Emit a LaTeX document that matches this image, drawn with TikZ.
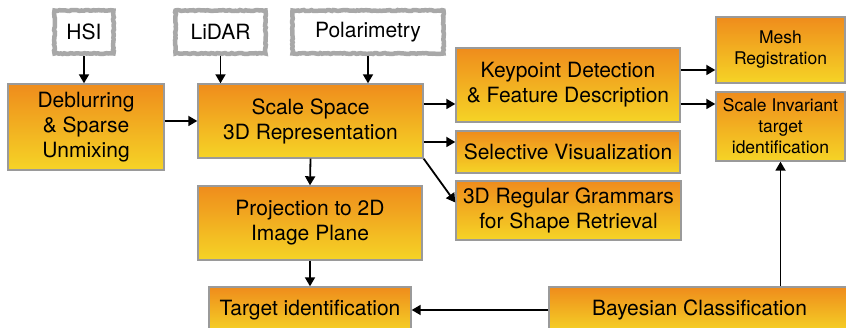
\documentclass[tikz,border=0pt]{standalone}
\usepackage{fontspec}
\setmainfont{TeX Gyre Heros}
\usetikzlibrary{arrows.meta,decorations.pathmorphing}

\begin{document}
\begin{tikzpicture}[x=1pt,y=1pt,
  stagebox/.style 2 args={rectangle,draw=boxgray,line width=1.4pt,top color=toporange,bottom color=botyellow,
    minimum width=#1,minimum height=#2,inner sep=0pt,align=center,font=\fontsize{21}{25}\selectfont},
  smallbox/.style 2 args={stagebox={#1}{#2},font=\fontsize{17.5}{21}\selectfont},
  sensorbox/.style={rectangle,draw=chalkgray,line width=4.5pt,minimum height=43,inner sep=0pt,
    decorate,decoration={random steps,segment length=2pt,amplitude=0.5pt},font=\fontsize{21}{25}\selectfont},
  arr/.style={-{Triangle[length=9pt,width=10pt]},line width=1.8pt}]
\definecolor{toporange}{HTML}{EF8C1C}
\definecolor{botyellow}{HTML}{F5D426}
\definecolor{boxgray}{HTML}{9A9A9A}
\definecolor{chalkgray}{HTML}{A8A8A8}
\useasboundingbox (0,0) rectangle (846,328);
  % inputs
  \foreach \nm/\txt/\xx/\bw in {hsi/HSI/84/59,lidar/LiDAR/220.5/90,pol/Polarimetry/368/151}
  {  \node [sensorbox,minimum width=\bw] (\nm) at (\xx,296) {\txt};}
  % processing stages
  \node [stagebox={156}{86}] (deblur) at (86,201) {Deblurring\\\& Sparse\\Unmixing};
  \node [stagebox={225}{74}] (scale) at (310.5,207) {Scale Space\\3D Representation};
  \node [stagebox={224}{74}] (keypt) at (568,243) {Keypoint Detection\\\& Feature Description};
  \node [stagebox={224}{42}] (selvis) at (568,176) {Selective Visualization};
  \node [stagebox={225}{59}] (gramm) at (568.5,117.5) {3D Regular Grammars\\for Shape Retrieval};
  \node [smallbox={129}{66}] (mesh) at (780.5,278) {Mesh\\Registration};
  \node [smallbox={129}{69}] (scinv) at (780.5,201.5) {Scale Invariant\\target\\identification};
  \node [stagebox={224}{74}] (proj) at (310,105) {Projection to 2D\\Image Plane};
  \node [stagebox={202}{46}] (target) at (310,18) {Target identification};
  \node [stagebox={301}{46}] (bayes) at (699.5,18) {Bayesian Classification};
  % connectors
  \draw [arr] (hsi.south) -- (hsi.south |- deblur.north);
  \foreach \nm in {lidar,pol}
  {  \draw [arr] (\nm.south) -- (\nm.south |- scale.north);}
  \draw [arr] (deblur.east |- scale.west) -- (scale.west);
  \draw [arr] ([yshift=17pt]scale.east) -- ([yshift=17pt]scale.east -| keypt.west);
  \draw [arr] ([yshift=10pt]selvis.west -| scale.east) -- ([yshift=10pt]selvis.west);
  \draw [arr] (scale.south east) -- ([yshift=8pt]gramm.west);
  \draw [arr] (scale.south) -- (proj.north);
  \draw [arr] (proj.south) -- (target.north);
  \draw [arr] (bayes.west) -- (target.east);
  \draw [arr] ([yshift=15pt]keypt.east) -- ([yshift=15pt]keypt.east -| mesh.west);
  \draw [arr] ([yshift=-19pt]keypt.east) -- ([yshift=-19pt]keypt.east -| scinv.west);
  \draw [arr] (bayes.north -| scinv.south) -- (scinv.south);
\end{tikzpicture}
\end{document}
